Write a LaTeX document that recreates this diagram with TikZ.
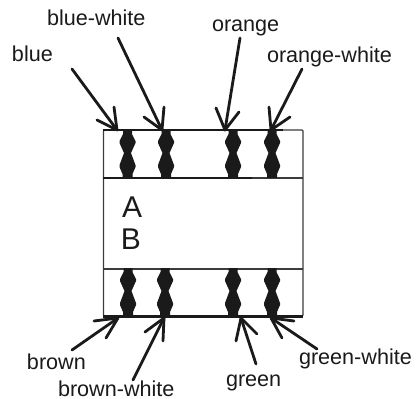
\documentclass[tikz,border=0pt]{standalone}
\usepackage{fontspec}
\setmainfont{Liberation Sans}
\definecolor{ink}{HTML}{1A1A1A}
\newcommand{\wire}[5]{%
  \coordinate (#1s) at #2; \coordinate (#1t) at #3;
  \coordinate (#1a) at #4; \coordinate (#1b) at #5;
  \draw[wireline] (#1s) -- (#1t);
  \draw[wireline] (#1a) -- (#1t) -- (#1b);}
\newcommand{\blob}[2]{%
  \fill[ink] (#1-4.5,#2-12) -- (#1-4.5,#2-8) -- (#1-8,#2-1) -- (#1-8,#2+1) -- (#1-3.5,#2+11)
    -- (#1-8,#2+23) -- (#1-8,#2+25) -- (#1-5,#2+32) -- (#1-5,#2+36) -- (#1+5,#2+36)
    -- (#1+5,#2+32) -- (#1+8,#2+25) -- (#1+8,#2+23) -- (#1+3.5,#2+11) -- (#1+8,#2+1)
    -- (#1+8,#2-1) -- (#1+4.5,#2-8) -- (#1+4.5,#2-12) -- cycle;}
\tikzset{
  wireline/.style={draw=ink,line width=2.8pt,line cap=round,line join=round},
  lbl/.style={anchor=base west,inner sep=0pt,outer sep=0pt,text=ink,font=\fontsize{21.6}{22}\selectfont},
  big/.style={anchor=base west,inner sep=0pt,outer sep=0pt,text=ink,font=\fontsize{30}{30}\selectfont},
  thinline/.style={draw=ink!85,line width=1.3pt},
  thickline/.style={draw=ink,line width=2.4pt},
}
\begin{document}
\begin{tikzpicture}[x=1pt,y=-1pt]
\useasboundingbox (0,0) rectangle (416,399);
\node[lbl] (nblue) at (12,61) {blue};
\node[lbl] (nbluew) at (47,25) {blue-white};
\node[lbl] (norange) at (212,31) {orange};
\node[lbl] (norangew) at (267,62) {orange-white};
\node[lbl] (nbrown) at (27,369) {brown};
\node[lbl] (nbrownw) at (58,396) {brown-white};
\node[lbl] (ngreen) at (226,386) {green};
\node[lbl] (ngreenw) at (299,364) {green-white};
\node[big] (nA) at (122,217) {A};
\node[big] (nB) at (121,249) {B};
% box
\draw[thinline,rounded corners=1pt] (103.5,130) rectangle (303,316);
\draw[thickline] (103,130) -- (283,130);
\draw[thickline] (103,178) -- (252,178);
\draw[thinline] (252,178) -- (303,178);
\draw[thinline] (103,269) -- (303,269);
\draw[thickline] (103,316.5) -- (303,316.5);
% blobs
\blob{127.5}{142}\blob{166}{142}\blob{233}{142}\blob{272}{142}
\blob{128}{280}\blob{165}{280}\blob{233}{280}\blob{272}{280}
% arrows
\wire{a}{(72,69)}{(117,130)}{(97,120)}{(114,107)}
\wire{b}{(118,38)}{(162,130)}{(144,117)}{(164,107)}
\wire{c}{(240,38)}{(225,130)}{(216,108)}{(239,112)}
\wire{d}{(302,69)}{(271,130)}{(269,107)}{(290,117)}
\wire{e}{(72,350)}{(118,318)}{(94,321)}{(106,338)}
\wire{f}{(133,380)}{(164,318)}{(145,332)}{(163,341)}
\wire{g}{(256,364)}{(241,318)}{(236,341)}{(257,334)}
\wire{h}{(317,349)}{(271,318)}{(282,338)}{(294,321)}
\end{tikzpicture}
\end{document}
